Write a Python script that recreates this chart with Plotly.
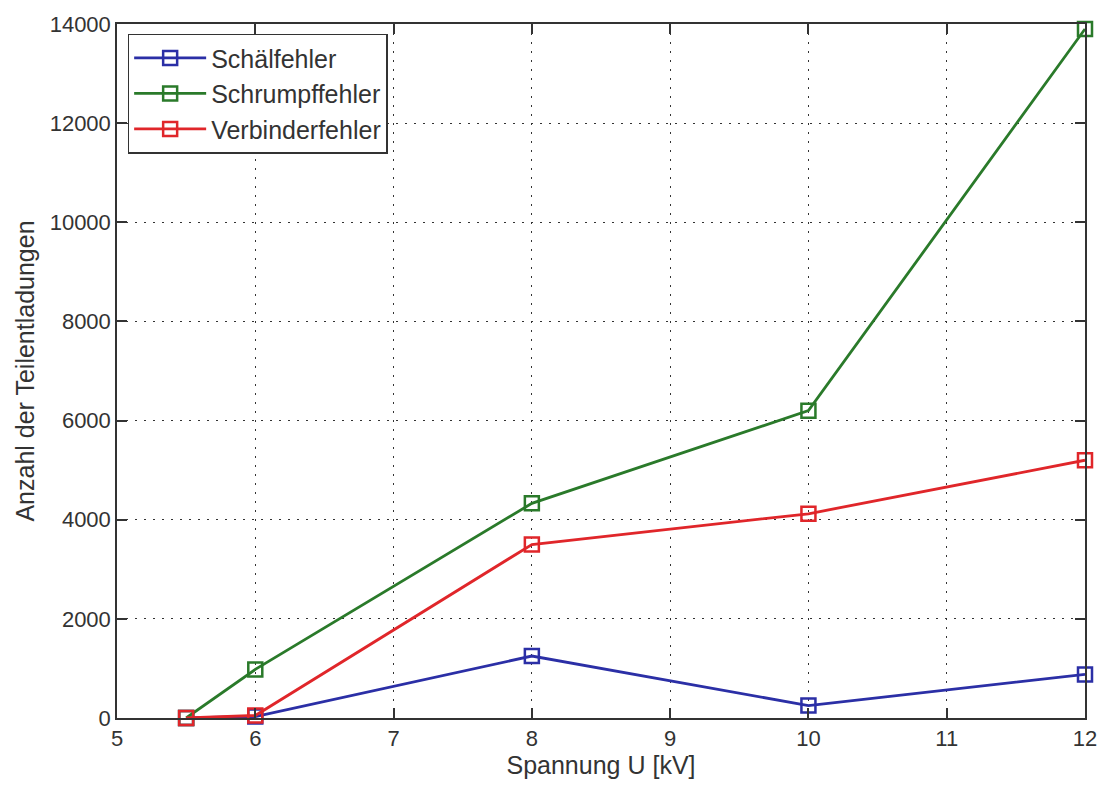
import plotly.graph_objects as go

spannung = [5.5, 6, 8, 10, 12]
schaelfehler = [0, 30, 1250, 250, 880]
schrumpffehler = [0, 980, 4330, 6200, 13900]
verbinderfehler = [0, 50, 3500, 4120, 5200]

series = [
    ("Schälfehler", schaelfehler, "#2b2fa6"),
    ("Schrumpffehler", schrumpffehler, "#2a7a2a"),
    ("Verbinderfehler", verbinderfehler, "#e0262a"),
]

fig = go.Figure()
for name, vals, col in series:
    fig.add_trace(go.Scatter(
        x=spannung, y=vals, name=name, mode="lines+markers",
        line=dict(color=col, width=2.8),
        marker=dict(symbol="square-open", size=14, color=col, line=dict(width=2.5, color=col)),
        cliponaxis=False,
    ))

FAM = "Liberation Sans"
tick_font = dict(family=FAM, size=22, color="#333333")
title_font = dict(family=FAM, size=25, color="#333333")
axis_common = dict(
    showline=True, linecolor="#333333", linewidth=1.5, mirror="ticks",
    ticks="inside", ticklen=10, tickcolor="#333333", tickwidth=1.5,
    showgrid=True, gridcolor="#333333", griddash="2px,7px", gridwidth=1.2,
    zeroline=False, tickfont=tick_font, tickformat="d",
)
fig.update_layout(
    width=1109, height=787,
    margin=dict(l=117, r=16, t=24, b=69),
    paper_bgcolor="white", plot_bgcolor="white",
    font=tick_font,
    xaxis=dict(range=[5, 12], dtick=1, title=dict(text="Spannung U [kV]", font=title_font, standoff=4), **axis_common),
    yaxis=dict(range=[0, 14000], dtick=2000, title=dict(text="Anzahl der Teilentladungen", font=title_font, standoff=8), **axis_common),
    legend=dict(x=0.011, y=0.986, xanchor="left", yanchor="top",
                bgcolor="white", bordercolor="#333333", borderwidth=1.5,
                font=dict(family=FAM, size=25, color="#333333"),
                tracegroupgap=0, itemwidth=72),
    showlegend=True,
)
fig.write_html("out.html")
